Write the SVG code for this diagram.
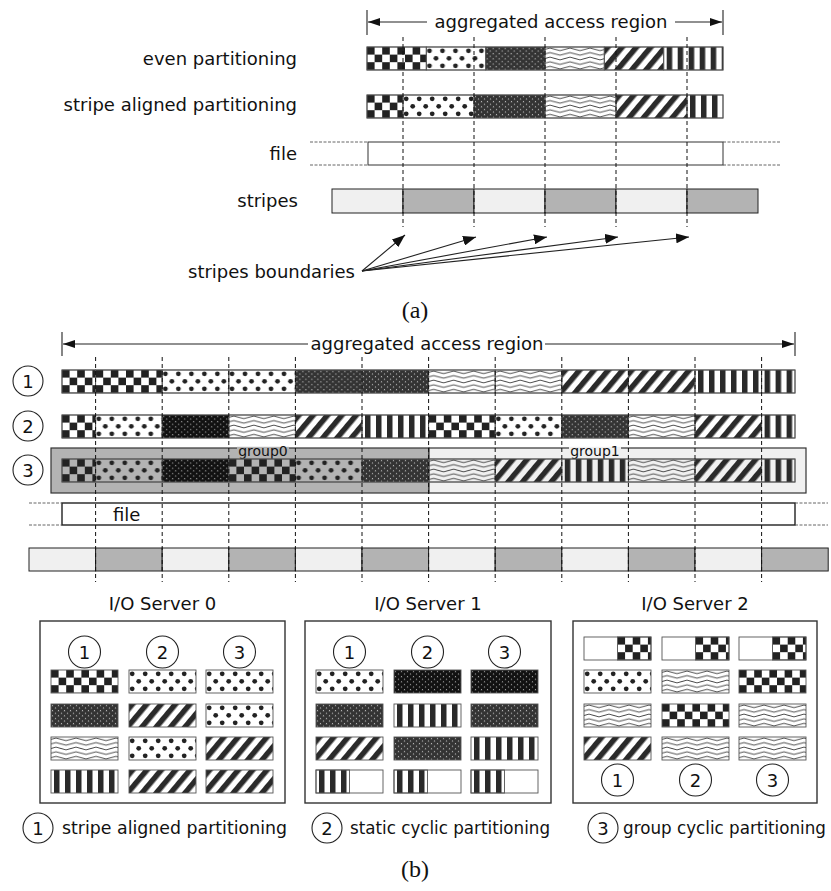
<svg xmlns="http://www.w3.org/2000/svg" width="831" height="891" viewBox="0 0 831 891">
<style>
text{font-family:"DejaVu Sans","Noto Sans",sans-serif;font-size:18px;fill:#111}
.sm{font-size:14px}
.lg{font-size:17px}
.ser{font-family:"Liberation Serif","DejaVu Serif",serif;font-size:24px}
.c{stroke:#555;stroke-width:0.9}
.wb{fill:#fff;stroke:#555;stroke-width:0.9}
.dash{stroke:#111;stroke-width:1;stroke-dasharray:4 3;fill:none}
.hd{stroke:#555;stroke-width:0.9;stroke-dasharray:3 1.5;fill:none}
.ln{stroke:#222;stroke-width:1.1;fill:none}
.lt{fill:#f0f0f0;stroke:#222;stroke-width:1}
.dk{fill:#b3b3b3;stroke:#222;stroke-width:1}
.cn{fill:#fff;stroke:#222;stroke-width:1.1}
.box{fill:#fff;stroke:#333;stroke-width:1.4}
.mid{text-anchor:middle}
.end{text-anchor:end}
</style>
<defs>
<pattern id="chk" width="15.2" height="15.2" patternUnits="userSpaceOnUse"><rect width="7.6" height="7.6" fill="#222"/><rect x="7.6" y="7.6" width="7.6" height="7.6" fill="#222"/></pattern>
<pattern id="dot" width="13" height="15" patternUnits="userSpaceOnUse"><circle cx="3.2" cy="3.8" r="2.4" fill="#222"/><circle cx="9.7" cy="11.3" r="2.4" fill="#222"/></pattern>
<pattern id="hex" width="6" height="5.2" patternUnits="userSpaceOnUse"><rect width="6" height="5.2" fill="#333"/><path d="M1.5,0.6 L2.4,2 L0.6,2 Z M4.5,3.2 L5.4,4.6 L3.6,4.6 Z" fill="#d0d0d0"/></pattern>
<pattern id="hexd" width="6" height="5.2" patternUnits="userSpaceOnUse"><rect width="6" height="5.2" fill="#111"/><path d="M1.5,0.6 L2.4,2 L0.6,2 Z M4.5,3.2 L5.4,4.6 L3.6,4.6 Z" fill="#bbb"/></pattern>
<pattern id="wav" width="20" height="4.6" patternUnits="userSpaceOnUse"><path d="M0,2.3 Q5,-0.3 10,2.3 T20,2.3" fill="none" stroke="#333" stroke-width="0.9"/></pattern>
<pattern id="dia" width="11" height="10" patternUnits="userSpaceOnUse" patternTransform="rotate(40)"><rect width="5.5" height="10" fill="#2a2a2a"/></pattern>
<pattern id="ver" width="11" height="10" patternUnits="userSpaceOnUse"><rect x="3" width="5.5" height="10" fill="#2a2a2a"/></pattern>
<marker id="ah" markerWidth="12" markerHeight="8" refX="12" refY="4" orient="auto" markerUnits="userSpaceOnUse"><path d="M0,0 L12,4 L0,8 z" fill="#111"/></marker>
<marker id="ah2" markerWidth="13" markerHeight="10" refX="13" refY="5" orient="auto" markerUnits="userSpaceOnUse"><path d="M0,0 L13,5 L0,10 z" fill="#111"/></marker>
</defs>
<rect width="831" height="891" fill="#fff"/>

<!-- ===== (a) ===== -->
<g id="a-header">
<line class="ln" x1="367" y1="10" x2="367" y2="35"/>
<line class="ln" x1="723" y1="10" x2="723" y2="35"/>
<line class="ln" x1="427" y1="22" x2="368" y2="22" marker-end="url(#ah)"/>
<line class="ln" x1="675" y1="22" x2="722" y2="22" marker-end="url(#ah)"/>
<text class="mid" x="551" y="28">aggregated access region</text>
</g>
<g id="a-labels">
<text class="end" x="297" y="65">even partitioning</text>
<text class="end" x="297" y="111">stripe aligned partitioning</text>
<text class="end" x="297" y="160">file</text>
<text class="end" x="298" y="207">stripes</text>
<text x="188" y="278">stripes boundaries</text>
</g>
<g id="a-even">
<rect class="wb" x="367" y="47" width="356" height="23"/>
<rect class="c" transform="translate(367,47)" width="59.3" height="23" fill="url(#chk)"/>
<rect class="c" transform="translate(426.3,47)" width="59.4" height="23" fill="url(#dot)"/>
<rect class="c" transform="translate(485.7,47)" width="59.3" height="23" fill="url(#hex)"/>
<rect class="c" transform="translate(545,47)" width="59.3" height="23" fill="url(#wav)"/>
<rect class="c" transform="translate(604.3,47)" width="59.4" height="23" fill="url(#dia)"/>
<rect class="c" transform="translate(663.7,47)" width="59.3" height="23" fill="url(#ver)"/>
</g>
<g id="a-aligned">
<rect class="wb" x="367" y="95" width="356" height="23"/>
<rect class="c" transform="translate(367,95)" width="36" height="23" fill="url(#chk)"/>
<rect class="c" transform="translate(403,95)" width="71" height="23" fill="url(#dot)"/>
<rect class="c" transform="translate(474,95)" width="71" height="23" fill="url(#hex)"/>
<rect class="c" transform="translate(545,95)" width="71" height="23" fill="url(#wav)"/>
<rect class="c" transform="translate(616,95)" width="71" height="23" fill="url(#dia)"/>
<rect class="c" transform="translate(687,95)" width="36" height="23" fill="url(#ver)"/>
</g>
<g id="a-file">
<rect x="368" y="142" width="355" height="23" fill="#fff" stroke="#333" stroke-width="1"/>
<path class="hd" d="M310,142H368M310,165H368M723,142H780M723,165H780"/>
</g>
<g id="a-stripes">
<rect class="lt" x="332" y="189" width="71" height="24"/>
<rect class="dk" x="403" y="189" width="71" height="24"/>
<rect class="lt" x="474" y="189" width="71" height="24"/>
<rect class="dk" x="545" y="189" width="71" height="24"/>
<rect class="lt" x="616" y="189" width="71" height="24"/>
<rect class="dk" x="687" y="189" width="71" height="24"/>
</g>
<g id="a-boundaries">
<path class="dash" d="M403,37V227M474,37V227M545,37V227M616,37V227M687,37V227"/>
</g>
<g id="a-connectors">
<line class="ln" x1="362" y1="271" x2="405" y2="235" marker-end="url(#ah2)"/>
<line class="ln" x1="362" y1="271" x2="476" y2="237" marker-end="url(#ah2)"/>
<line class="ln" x1="362" y1="271" x2="547" y2="237" marker-end="url(#ah2)"/>
<line class="ln" x1="362" y1="271" x2="618" y2="237" marker-end="url(#ah2)"/>
<line class="ln" x1="362" y1="271" x2="689" y2="237" marker-end="url(#ah2)"/>
</g>
<text class="ser mid" x="415" y="318">(a)</text>

<!-- ===== (b) ===== -->
<g id="b-header">
<line class="ln" x1="62" y1="332" x2="62" y2="356"/>
<line class="ln" x1="795" y1="332" x2="795" y2="356"/>
<line class="ln" x1="308" y1="344" x2="63" y2="344" marker-end="url(#ah)"/>
<line class="ln" x1="545" y1="344" x2="794" y2="344" marker-end="url(#ah)"/>
<text class="mid" x="427" y="350">aggregated access region</text>
</g>
<g id="b-markers">
<circle class="cn" cx="28" cy="381" r="15"/><text class="mid" x="28" y="387.5">1</text>
<circle class="cn" cx="28" cy="426" r="15"/><text class="mid" x="28" y="432.5">2</text>
<circle class="cn" cx="28" cy="470" r="15"/><text class="mid" x="28" y="476.5">3</text>
</g>
<g id="b-row1">
<rect class="wb" x="62" y="370" width="733" height="23"/>
<rect class="c" transform="translate(62,370)" width="33.6" height="23" fill="url(#chk)"/>
<rect class="c" transform="translate(95.6,370)" width="66.6" height="23" fill="url(#chk)"/>
<rect class="c" transform="translate(162.2,370)" width="66.6" height="23" fill="url(#dot)"/>
<rect class="c" transform="translate(228.8,370)" width="66.6" height="23" fill="url(#dot)"/>
<rect class="c" transform="translate(295.4,370)" width="66.6" height="23" fill="url(#hex)"/>
<rect class="c" transform="translate(362,370)" width="66.6" height="23" fill="url(#hex)"/>
<rect class="c" transform="translate(428.6,370)" width="66.6" height="23" fill="url(#wav)"/>
<rect class="c" transform="translate(495.2,370)" width="66.6" height="23" fill="url(#wav)"/>
<rect class="c" transform="translate(561.8,370)" width="66.6" height="23" fill="url(#dia)"/>
<rect class="c" transform="translate(628.4,370)" width="66.6" height="23" fill="url(#dia)"/>
<rect class="c" transform="translate(695,370)" width="66.6" height="23" fill="url(#ver)"/>
<rect class="c" transform="translate(761.6,370)" width="33.4" height="23" fill="url(#ver)"/>
</g>
<g id="b-row2">
<rect class="wb" x="62" y="415" width="733" height="23"/>
<rect class="c" transform="translate(62,415)" width="33.6" height="23" fill="url(#chk)"/>
<rect class="c" transform="translate(95.6,415)" width="66.6" height="23" fill="url(#dot)"/>
<rect class="c" transform="translate(162.2,415)" width="66.6" height="23" fill="url(#hexd)"/>
<rect class="c" transform="translate(228.8,415)" width="66.6" height="23" fill="url(#wav)"/>
<rect class="c" transform="translate(295.4,415)" width="66.6" height="23" fill="url(#dia)"/>
<rect class="c" transform="translate(362,415)" width="66.6" height="23" fill="url(#ver)"/>
<rect class="c" transform="translate(428.6,415)" width="66.6" height="23" fill="url(#chk)"/>
<rect class="c" transform="translate(495.2,415)" width="66.6" height="23" fill="url(#dot)"/>
<rect class="c" transform="translate(561.8,415)" width="66.6" height="23" fill="url(#hex)"/>
<rect class="c" transform="translate(628.4,415)" width="66.6" height="23" fill="url(#wav)"/>
<rect class="c" transform="translate(695,415)" width="66.6" height="23" fill="url(#dia)"/>
<rect class="c" transform="translate(761.6,415)" width="33.4" height="23" fill="url(#ver)"/>
</g>
<g id="group0">
<rect x="51" y="448" width="378" height="45" fill="#b3b3b3" stroke="#333" stroke-width="1.2"/>
<rect x="237" y="446.8" width="52" height="10" fill="#b3b3b3"/>
<text class="sm mid" x="263" y="456">group0</text>
</g>
<g id="group1">
<rect x="429" y="448" width="377" height="45" fill="#f0f0f0" stroke="#333" stroke-width="1.2"/>
<rect x="569" y="446.8" width="52" height="10" fill="#f0f0f0"/>
<text class="sm mid" x="595" y="456">group1</text>
</g>
<g id="b-row3">
<rect x="62" y="459" width="733" height="23" fill="none" class="c"/>
<rect class="c" transform="translate(62,459)" width="33.6" height="23" fill="url(#chk)"/>
<rect class="c" transform="translate(95.6,459)" width="66.6" height="23" fill="url(#dot)"/>
<rect class="c" transform="translate(162.2,459)" width="66.6" height="23" fill="url(#hexd)"/>
<rect class="c" transform="translate(228.8,459)" width="66.6" height="23" fill="url(#chk)"/>
<rect class="c" transform="translate(295.4,459)" width="66.6" height="23" fill="url(#dot)"/>
<rect class="c" transform="translate(362,459)" width="66.6" height="23" fill="url(#hex)"/>
<rect class="c" transform="translate(428.6,459)" width="66.6" height="23" fill="url(#wav)"/>
<rect class="c" transform="translate(495.2,459)" width="66.6" height="23" fill="url(#dia)"/>
<rect class="c" transform="translate(561.8,459)" width="66.6" height="23" fill="url(#ver)"/>
<rect class="c" transform="translate(628.4,459)" width="66.6" height="23" fill="url(#wav)"/>
<rect class="c" transform="translate(695,459)" width="66.6" height="23" fill="url(#dia)"/>
<rect class="c" transform="translate(761.6,459)" width="33.4" height="23" fill="url(#ver)"/>
</g>
<g id="b-file">
<rect x="62" y="503" width="733" height="22" fill="#fff" stroke="#222" stroke-width="1.4"/>
<path class="hd" d="M29,503H62M29,525H62M795,503H828M795,525H828"/>
<text x="113" y="521">file</text>
</g>
<g id="b-stripes">
<rect class="lt" x="29" y="548" width="66.6" height="23"/>
<rect class="dk" x="95.6" y="548" width="66.6" height="23"/>
<rect class="lt" x="162.2" y="548" width="66.6" height="23"/>
<rect class="dk" x="228.8" y="548" width="66.6" height="23"/>
<rect class="lt" x="295.4" y="548" width="66.6" height="23"/>
<rect class="dk" x="362" y="548" width="66.6" height="23"/>
<rect class="lt" x="428.6" y="548" width="66.6" height="23"/>
<rect class="dk" x="495.2" y="548" width="66.6" height="23"/>
<rect class="lt" x="561.8" y="548" width="66.6" height="23"/>
<rect class="dk" x="628.4" y="548" width="66.6" height="23"/>
<rect class="lt" x="695" y="548" width="66.6" height="23"/>
<rect class="dk" x="761.6" y="548" width="66.6" height="23"/>
</g>
<g id="b-boundaries">
<path class="dash" d="M95.6,357V582M162.2,357V582M228.8,357V582M295.4,357V582M362,357V582M428.6,357V582M495.2,357V582M561.8,357V582M628.4,357V582M695,357V582M761.6,357V582"/>
</g>

<g id="server0">
<text class="mid" x="162.5" y="610">I/O Server 0</text>
<rect class="box" x="40" y="621" width="245" height="182"/>
<circle class="cn" cx="84.5" cy="652" r="16"/><text class="mid" x="84.5" y="658.5">1</text>
<circle class="cn" cx="162.5" cy="652" r="16"/><text class="mid" x="162.5" y="658.5">2</text>
<circle class="cn" cx="239.5" cy="652" r="16"/><text class="mid" x="239.5" y="658.5">3</text>
<rect class="c" transform="translate(51,670)" width="67" height="23" fill="url(#chk)"/>
<rect class="c" transform="translate(129,670)" width="67" height="23" fill="url(#dot)"/>
<rect class="c" transform="translate(206,670)" width="67" height="23" fill="url(#dot)"/>
<rect class="c" transform="translate(51,704)" width="67" height="23" fill="url(#hex)"/>
<rect class="c" transform="translate(129,704)" width="67" height="23" fill="url(#dia)"/>
<rect class="c" transform="translate(206,704)" width="67" height="23" fill="url(#dot)"/>
<rect class="c" transform="translate(51,737)" width="67" height="23" fill="url(#wav)"/>
<rect class="c" transform="translate(129,737)" width="67" height="23" fill="url(#dot)"/>
<rect class="c" transform="translate(206,737)" width="67" height="23" fill="url(#dia)"/>
<rect class="c" transform="translate(51,770)" width="67" height="23" fill="url(#ver)"/>
<rect class="c" transform="translate(129,770)" width="67" height="23" fill="url(#dia)"/>
<rect class="c" transform="translate(206,770)" width="67" height="23" fill="url(#dia)"/>
</g>
<g id="server1">
<text class="mid" x="428" y="610">I/O Server 1</text>
<rect class="box" x="305" y="621" width="246" height="182"/>
<circle class="cn" cx="349.5" cy="652" r="16"/><text class="mid" x="349.5" y="658.5">1</text>
<circle class="cn" cx="427.5" cy="652" r="16"/><text class="mid" x="427.5" y="658.5">2</text>
<circle class="cn" cx="504.5" cy="652" r="16"/><text class="mid" x="504.5" y="658.5">3</text>
<rect class="c" transform="translate(316,670)" width="67" height="23" fill="url(#dot)"/>
<rect class="c" transform="translate(394,670)" width="67" height="23" fill="url(#hexd)"/>
<rect class="c" transform="translate(471,670)" width="67" height="23" fill="url(#hexd)"/>
<rect class="c" transform="translate(316,704)" width="67" height="23" fill="url(#hex)"/>
<rect class="c" transform="translate(394,704)" width="67" height="23" fill="url(#ver)"/>
<rect class="c" transform="translate(471,704)" width="67" height="23" fill="url(#hex)"/>
<rect class="c" transform="translate(316,737)" width="67" height="23" fill="url(#dia)"/>
<rect class="c" transform="translate(394,737)" width="67" height="23" fill="url(#hex)"/>
<rect class="c" transform="translate(471,737)" width="67" height="23" fill="url(#ver)"/>
<rect class="wb" x="316" y="770" width="67" height="23"/>
<rect class="c" transform="translate(316,770)" width="33.5" height="23" fill="url(#ver)"/>
<rect class="wb" x="394" y="770" width="67" height="23"/>
<rect class="c" transform="translate(394,770)" width="33.5" height="23" fill="url(#ver)"/>
<rect class="wb" x="471" y="770" width="67" height="23"/>
<rect class="c" transform="translate(471,770)" width="33.5" height="23" fill="url(#ver)"/>
</g>
<g id="server2">
<text class="mid" x="695" y="610">I/O Server 2</text>
<rect class="box" x="573" y="621" width="244" height="182"/>
<rect class="wb" x="584" y="637" width="67" height="23"/>
<rect class="c" transform="translate(617.5,637)" width="33.5" height="23" fill="url(#chk)"/>
<rect class="wb" x="662" y="637" width="67" height="23"/>
<rect class="c" transform="translate(695.5,637)" width="33.5" height="23" fill="url(#chk)"/>
<rect class="wb" x="739" y="637" width="67" height="23"/>
<rect class="c" transform="translate(772.5,637)" width="33.5" height="23" fill="url(#chk)"/>
<rect class="c" transform="translate(584,670)" width="67" height="23" fill="url(#dot)"/>
<rect class="c" transform="translate(662,670)" width="67" height="23" fill="url(#wav)"/>
<rect class="c" transform="translate(739,670)" width="67" height="23" fill="url(#chk)"/>
<rect class="c" transform="translate(584,704)" width="67" height="23" fill="url(#wav)"/>
<rect class="c" transform="translate(662,704)" width="67" height="23" fill="url(#chk)"/>
<rect class="c" transform="translate(739,704)" width="67" height="23" fill="url(#wav)"/>
<rect class="c" transform="translate(584,737)" width="67" height="23" fill="url(#dia)"/>
<rect class="c" transform="translate(662,737)" width="67" height="23" fill="url(#wav)"/>
<rect class="c" transform="translate(739,737)" width="67" height="23" fill="url(#wav)"/>
<circle class="cn" cx="617.5" cy="780" r="16"/><text class="mid" x="617.5" y="786.5">1</text>
<circle class="cn" cx="695.5" cy="780" r="16"/><text class="mid" x="695.5" y="786.5">2</text>
<circle class="cn" cx="772.5" cy="780" r="16"/><text class="mid" x="772.5" y="786.5">3</text>
</g>
<g id="legend">
<circle class="cn" cx="38" cy="828" r="15"/><text class="mid" x="38" y="834.5">1</text>
<text class="lg" x="62" y="834" textLength="225" lengthAdjust="spacingAndGlyphs">stripe aligned partitioning</text>
<circle class="cn" cx="327" cy="828" r="15"/><text class="mid" x="327" y="834.5">2</text>
<text class="lg" x="350" y="834" textLength="200" lengthAdjust="spacingAndGlyphs">static cyclic partitioning</text>
<circle class="cn" cx="603" cy="828" r="15"/><text class="mid" x="603" y="834.5">3</text>
<text class="lg" x="623" y="834" textLength="203" lengthAdjust="spacingAndGlyphs">group cyclic partitioning</text>
</g>
<text class="ser mid" x="415" y="877">(b)</text>
</svg>
